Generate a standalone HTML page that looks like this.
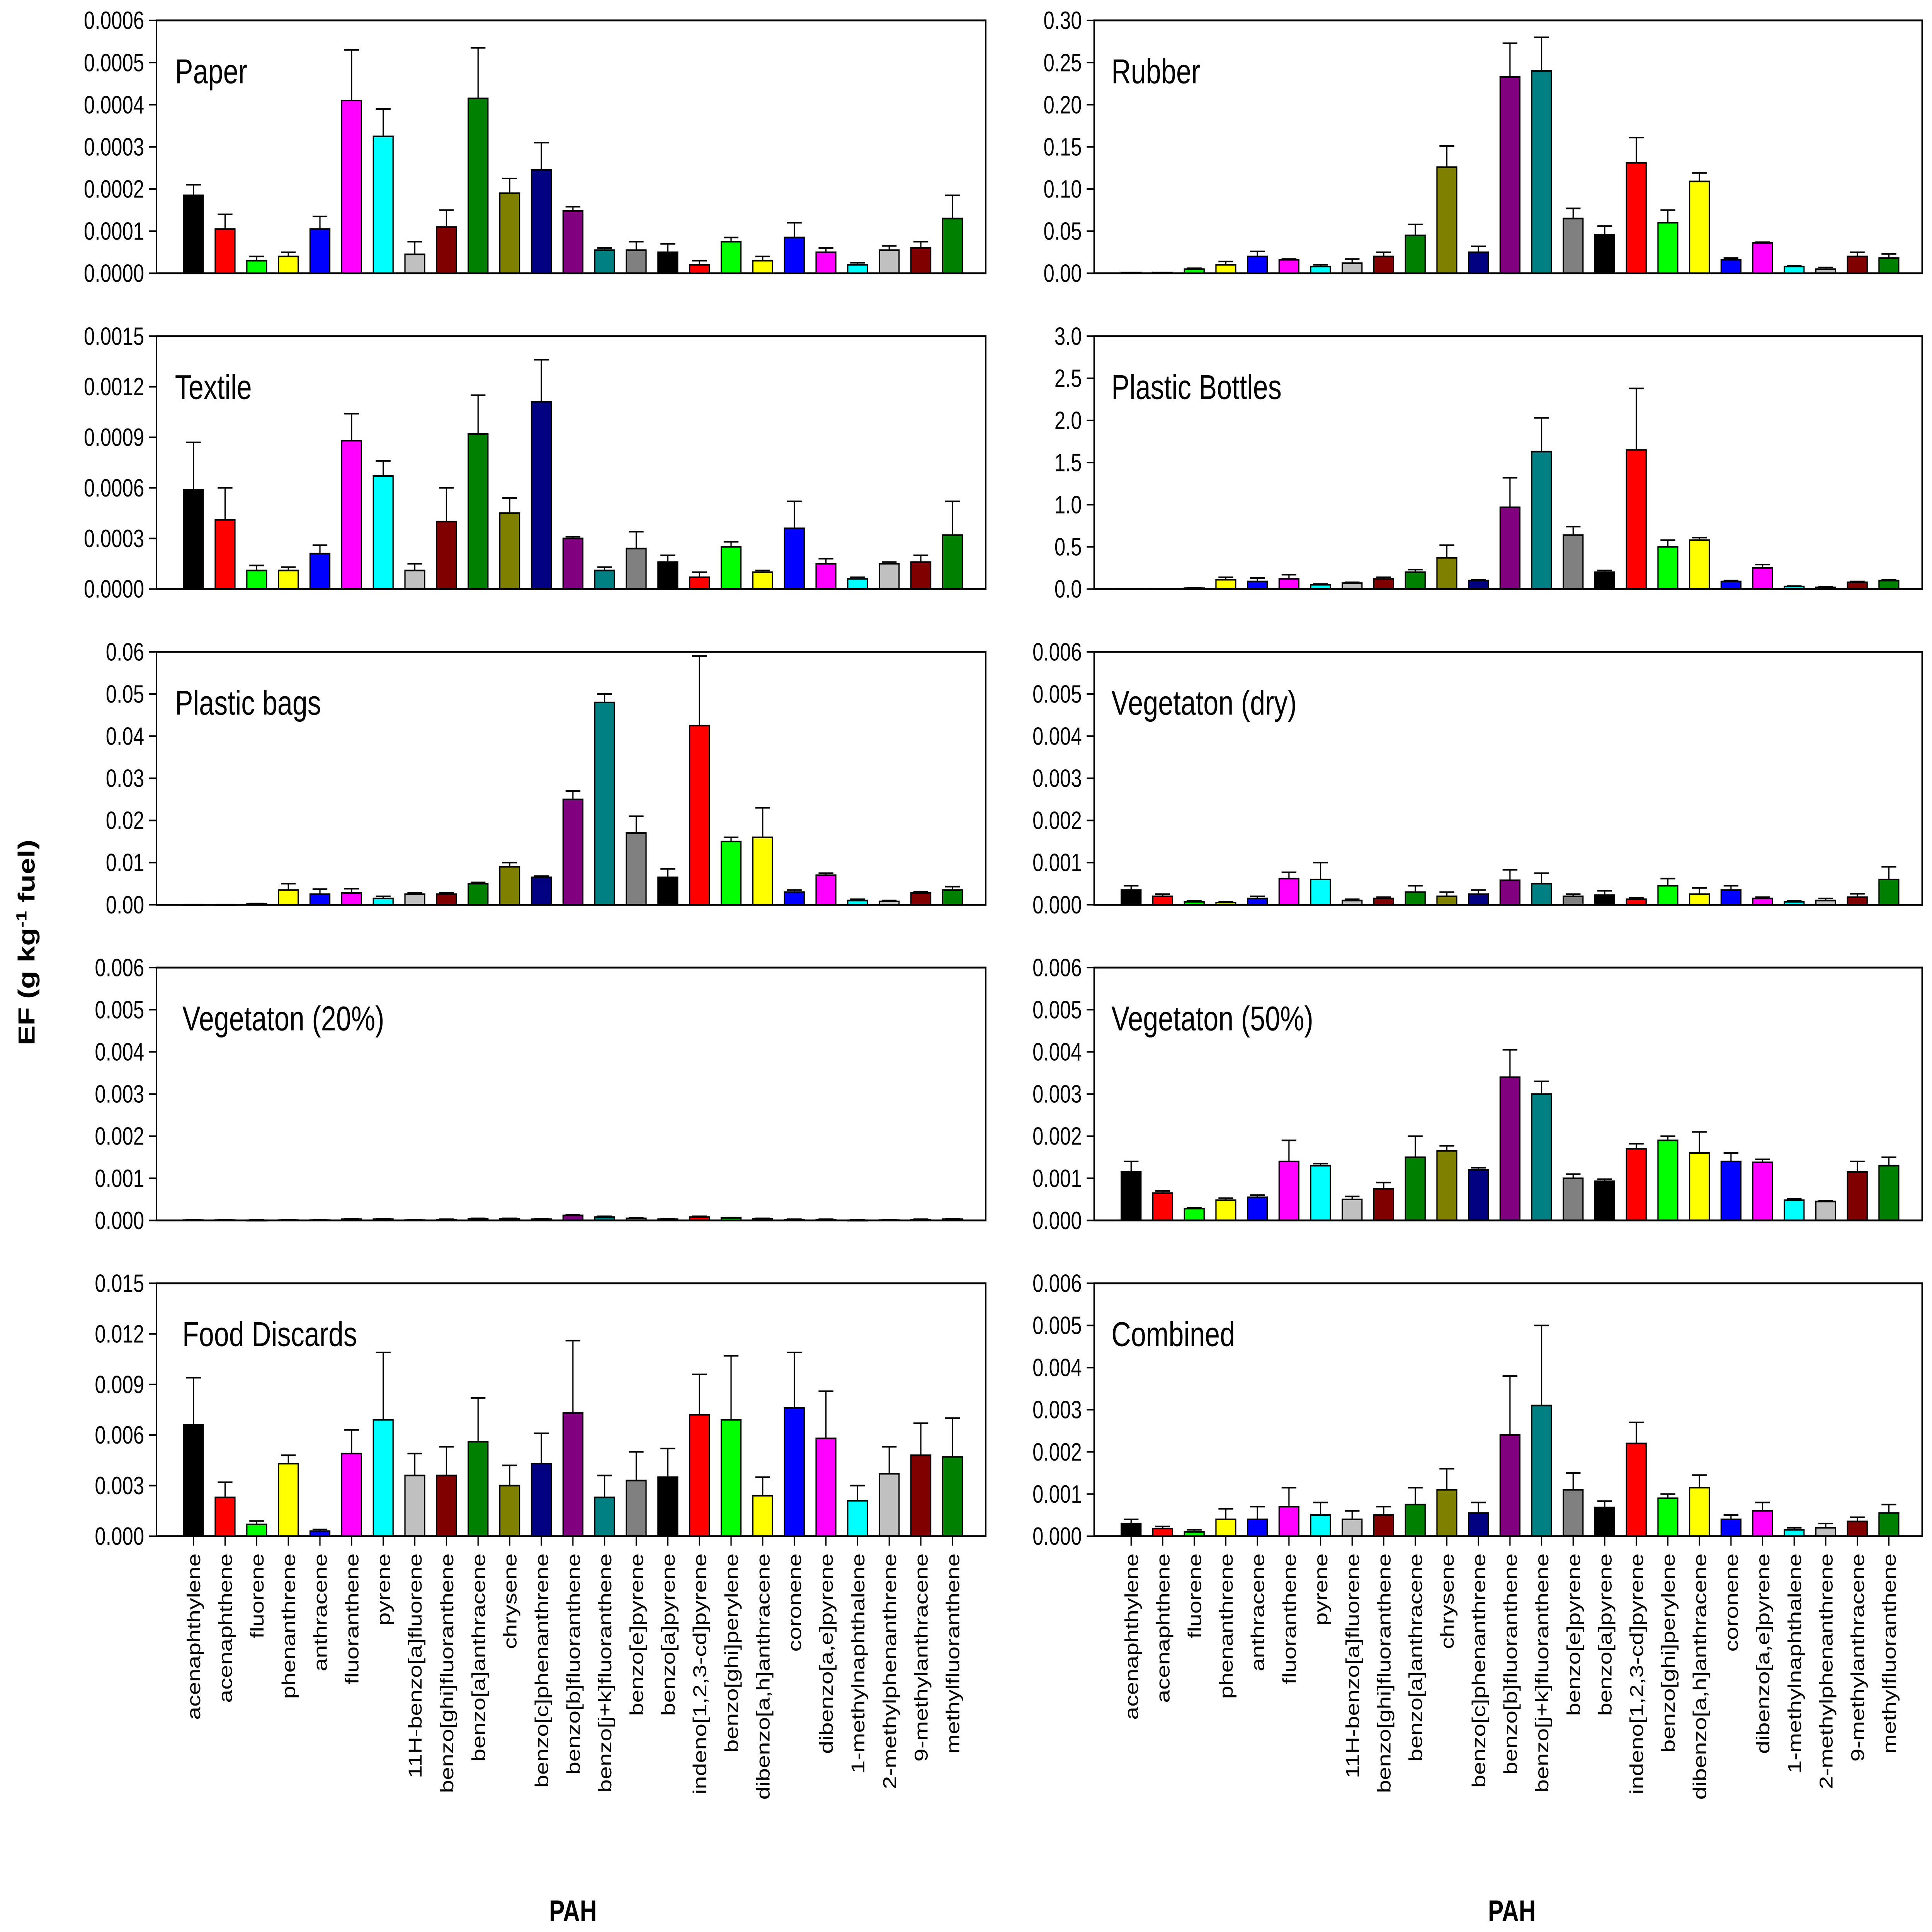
<!DOCTYPE html>
<html><head><meta charset="utf-8"><style>
html,body{margin:0;padding:0;background:#fff;width:100%;height:100%;overflow:hidden;}
svg{display:block;width:100vw;height:100vh;}
text{font-family:"Liberation Sans",Arial,sans-serif;}
</style></head><body>
<svg id="chart" viewBox="0 0 1568 1230" preserveAspectRatio="none" xmlns="http://www.w3.org/2000/svg">
<rect width="1568" height="1230" fill="#fff"/>
<text transform="translate(28,600) rotate(-90)" text-anchor="middle" font-size="19" font-weight="bold">EF (g kg<tspan baseline-shift="super" font-size="12">-1</tspan> fuel)</text>
<text x="465" y="1223" text-anchor="middle" font-size="19" font-weight="bold">PAH</text>
<text x="1227" y="1223" text-anchor="middle" font-size="19" font-weight="bold">PAH</text>
</svg>
<script>
const categories = ["acenaphthylene","acenaphthene","fluorene","phenanthrene","anthracene","fluoranthene","pyrene","11H-benzo[a]fluorene","benzo[ghi]fluoranthene","benzo[a]anthracene","chrysene","benzo[c]phenanthrene","benzo[b]fluoranthene","benzo[j+k]fluoranthene","benzo[e]pyrene","benzo[a]pyrene","indeno[1,2,3-cd]pyrene","benzo[ghi]perylene","dibenzo[a,h]anthracene","coronene","dibenzo[a,e]pyrene","1-methylnaphthalene","2-methylphenanthrene","9-methylanthracene","methylfluoranthene"];
const colors = ["#000000","#ff0000","#00ff00","#ffff00","#0000ff","#ff00ff","#00ffff","#c0c0c0","#800000","#008000","#808000","#000080","#800080","#008080","#808080","#000000","#ff0000","#00ff00","#ffff00","#0000ff","#ff00ff","#00ffff","#c0c0c0","#800000","#008000"];

const paperValues = [0.000185,0.000105,0.00003,0.00004,0.000105,0.00041,0.000325,0.000045,0.00011,0.000415,0.00019,0.000245,0.000148,0.000055,0.000055,0.00005,0.00002,0.000075,0.00003,0.000085,0.00005,0.00002,0.000055,0.00006,0.00013];
const paperErrors = [0.000025,0.000035,0.00001,0.00001,0.00003,0.00012,0.000065,0.00003,0.00004,0.00012,0.000035,0.000065,0.00001,0.000005,0.00002,0.00002,0.00001,0.00001,0.00001,0.000035,0.00001,0.000005,0.00001,0.000015,0.000055];
const paperTicks = ["0.0000","0.0001","0.0002","0.0003","0.0004","0.0005","0.0006"];

const textileValues = [0.00059,0.00041,0.00011,0.00011,0.00021,0.00088,0.00067,0.00011,0.0004,0.00092,0.00045,0.00111,0.0003,0.00011,0.00024,0.00016,0.00007,0.00025,0.0001,0.00036,0.00015,0.00006,0.00015,0.00016,0.00032];
const textileErrors = [0.00028,0.00019,0.00003,0.00002,0.00005,0.00016,0.00009,0.00004,0.0002,0.00023,0.00009,0.00025,0.00001,0.00002,0.0001,0.00004,0.00003,0.00003,0.00001,0.00016,0.00003,0.00001,0.00001,0.00004,0.0002];
const textileTicks = ["0.0000","0.0003","0.0006","0.0009","0.0012","0.0015"];

const bagsValues = [0.00005,0.00005,0.0002,0.0035,0.0025,0.0028,0.0015,0.0025,0.0025,0.005,0.009,0.0065,0.025,0.048,0.017,0.0065,0.0425,0.015,0.016,0.003,0.007,0.001,0.0008,0.0028,0.0035];
const bagsErrors = [0,0,0.0001,0.0015,0.0012,0.001,0.0005,0.0003,0.0003,0.0003,0.001,0.0003,0.002,0.002,0.004,0.002,0.0165,0.001,0.007,0.0005,0.0005,0.0003,0.0002,0.0003,0.0008];
const bagsTicks = ["0.00","0.01","0.02","0.03","0.04","0.05","0.06"];

const veg20Values = [0.00001,0.00001,0.000005,0.00001,0.00001,0.00003,0.00003,0.00001,0.00002,0.00004,0.00004,0.00003,0.00012,0.00008,0.00005,0.00003,0.00008,0.00006,0.00004,0.00002,0.00002,0.000005,0.00001,0.00002,0.00003];
const veg20Errors = [0.00001,0.00001,0.00001,0.00001,0.00001,0.00001,0.00001,0.00001,0.00001,0.00001,0.00001,0.00001,0.00002,0.00002,0.00001,0.00001,0.00002,0.00001,0.00001,0.00001,0.00001,0.00001,0.00001,0.00001,0.00001];
const veg20Ticks = ["0.000","0.001","0.002","0.003","0.004","0.005","0.006"];

const foodValues = [0.0066,0.0023,0.0007,0.0043,0.0003,0.0049,0.0069,0.0036,0.0036,0.0056,0.003,0.0043,0.0073,0.0023,0.0033,0.0035,0.0072,0.0069,0.0024,0.0076,0.0058,0.0021,0.0037,0.0048,0.0047];
const foodErrors = [0.0028,0.0009,0.0002,0.0005,0.0001,0.0014,0.004,0.0013,0.0017,0.0026,0.0012,0.0018,0.0043,0.0013,0.0017,0.0017,0.0024,0.0038,0.0011,0.0033,0.0028,0.0009,0.0016,0.0019,0.0023];
const foodTicks = ["0.000","0.003","0.006","0.009","0.012","0.015"];

const rubberValues = [0.001,0.001,0.005,0.01,0.02,0.016,0.008,0.012,0.02,0.045,0.126,0.025,0.233,0.24,0.065,0.046,0.131,0.06,0.109,0.016,0.036,0.008,0.005,0.02,0.018];
const rubberErrors = [0,0,0.001,0.004,0.006,0.001,0.002,0.005,0.005,0.013,0.025,0.007,0.04,0.04,0.012,0.01,0.03,0.015,0.01,0.002,0.001,0.001,0.002,0.005,0.005];
const rubberTicks = ["0.00","0.05","0.10","0.15","0.20","0.25","0.30"];

const bottlesValues = [0.005,0.005,0.01,0.11,0.09,0.12,0.05,0.07,0.12,0.2,0.37,0.1,0.97,1.63,0.64,0.2,1.65,0.5,0.58,0.09,0.25,0.03,0.02,0.08,0.1];
const bottlesErrors = [0,0,0.005,0.03,0.04,0.05,0.01,0.01,0.02,0.03,0.15,0.01,0.35,0.4,0.1,0.02,0.73,0.08,0.03,0.01,0.04,0.005,0.005,0.01,0.01];
const bottlesTicks = ["0.0","0.5","1.0","1.5","2.0","2.5","3.0"];

const vegDryValues = [0.00035,0.0002,0.00007,0.00005,0.00015,0.00062,0.0006,0.0001,0.00015,0.0003,0.0002,0.00025,0.00058,0.0005,0.0002,0.00023,0.00013,0.00045,0.00025,0.00035,0.00015,0.00007,0.0001,0.00018,0.0006];
const vegDryErrors = [0.0001,0.00005,0.00002,0.00002,0.00005,0.00015,0.0004,0.00003,0.00003,0.00015,0.0001,0.0001,0.00025,0.00025,0.00005,0.0001,0.00003,0.00017,0.00015,0.0001,0.00003,0.00002,0.00005,0.00008,0.0003];
const vegDryTicks = ["0.000","0.001","0.002","0.003","0.004","0.005","0.006"];

const veg50Values = [0.00115,0.00065,0.00028,0.00048,0.00055,0.0014,0.0013,0.0005,0.00075,0.0015,0.00165,0.0012,0.0034,0.003,0.001,0.00093,0.0017,0.0019,0.0016,0.0014,0.00138,0.00048,0.00045,0.00115,0.0013];
const veg50Errors = [0.00025,0.00005,0.00002,0.00005,0.00005,0.0005,0.00005,0.00007,0.00015,0.0005,0.00012,0.00005,0.00065,0.0003,0.0001,0.00005,0.00012,0.0001,0.0005,0.0002,0.00007,0.00003,0.00002,0.00025,0.0002];
const veg50Ticks = ["0.000","0.001","0.002","0.003","0.004","0.005","0.006"];

const combinedValues = [0.0003,0.00018,0.0001,0.0004,0.0004,0.0007,0.0005,0.0004,0.0005,0.00075,0.0011,0.00055,0.0024,0.0031,0.0011,0.00068,0.0022,0.0009,0.00115,0.0004,0.0006,0.00015,0.0002,0.00035,0.00055];
const combinedErrors = [0.0001,0.00005,0.00005,0.00025,0.0003,0.00045,0.0003,0.0002,0.0002,0.0004,0.0005,0.00025,0.0014,0.0019,0.0004,0.00015,0.0005,0.0001,0.0003,0.0001,0.0002,0.00005,0.0001,0.0001,0.0002];
const combinedTicks = ["0.000","0.001","0.002","0.003","0.004","0.005","0.006"];

const panels = [
 {name:"paper",title:"Paper",col:0,row:0,v:paperValues,e:paperErrors,t:paperTicks,tx:142},
 {name:"textile",title:"Textile",col:0,row:1,v:textileValues,e:textileErrors,t:textileTicks,tx:142},
 {name:"plastic-bags",title:"Plastic bags",col:0,row:2,v:bagsValues,e:bagsErrors,t:bagsTicks,tx:142},
 {name:"vegetation-20",title:"Vegetaton (20%)",col:0,row:3,v:veg20Values,e:veg20Errors,t:veg20Ticks,tx:148},
 {name:"food-discards",title:"Food Discards",col:0,row:4,v:foodValues,e:foodErrors,t:foodTicks,tx:148},
 {name:"rubber",title:"Rubber",col:1,row:0,v:rubberValues,e:rubberErrors,t:rubberTicks,tx:902},
 {name:"plastic-bottles",title:"Plastic Bottles",col:1,row:1,v:bottlesValues,e:bottlesErrors,t:bottlesTicks,tx:902},
 {name:"vegetation-dry",title:"Vegetaton (dry)",col:1,row:2,v:vegDryValues,e:vegDryErrors,t:vegDryTicks,tx:902},
 {name:"vegetation-50",title:"Vegetaton (50%)",col:1,row:3,v:veg50Values,e:veg50Errors,t:veg50Ticks,tx:902},
 {name:"combined",title:"Combined",col:1,row:4,v:combinedValues,e:combinedErrors,t:combinedTicks,tx:902}
];

const NS="http://www.w3.org/2000/svg";
const svg=document.getElementById("chart");
function mk(tag,attrs,parent){const el=document.createElementNS(NS,tag);for(const k in attrs)el.setAttribute(k,attrs[k]);(parent||svg).appendChild(el);return el;}

const colX=[127,888], colW=[673,672];
const rowTop=[13,214,415,616,817], ph=161;

panels.forEach(p=>{
  const g=mk("g",{});
  
  
  const x0=colX[p.col], w=colW[p.col], y0=rowTop[p.row], yb=y0+ph;
  const maxV=parseFloat(p.t[p.t.length-1]);
  const yS=v=>yb-(v/maxV)*ph;
  const step=(w-57)/24, first=x0+30;
  const xS=i=>first+i*step;
  const bw=16;
  p.t.forEach(lbl=>{
    const y=yS(parseFloat(lbl));
    const ln=mk("line",{x1:x0-6,x2:x0,y1:y,y2:y,stroke:"#000","stroke-width":1},g);
    
    
    const tt=mk("text",{x:x0-10,y:y+5.5,"text-anchor":"end","font-size":16},g);
    
    
    tt.textContent=lbl;
  });
  p.v.forEach((v,i)=>{
    const cx=xS(i), top=yS(v);
    const eTop=yS(v+p.e[i]);
    if(p.e[i]>0){
      const el=mk("path",{d:`M${cx},${top}V${eTop}M${cx-6},${eTop}H${cx+6}`,stroke:"#000","stroke-width":1,fill:"none"},g);
      
      
    }
    const r=mk("rect",{x:cx-bw/2,y:top,width:bw,height:Math.max(yb-top,0.3),fill:colors[i],stroke:"#000","stroke-width":1},g);
    
    
    if(p.row===4){
      const tk=mk("line",{x1:cx,x2:cx,y1:yb,y2:yb+6,stroke:"#000","stroke-width":1},g);
      
      
      const lt=mk("text",{transform:`translate(${cx+5.5},${yb+11}) rotate(-90)`,"text-anchor":"end","font-size":15},g);
      
      
      lt.textContent=categories[i];
    }
  });
  const fr=mk("rect",{x:x0,y:y0,width:w,height:ph,fill:"none",stroke:"#000","stroke-width":1.2},g);
  
  
  const ti=mk("text",{x:p.tx,y:y0+40,"font-size":22},g);
  
  
  ti.textContent=p.title;
});
</script>
</body></html>
